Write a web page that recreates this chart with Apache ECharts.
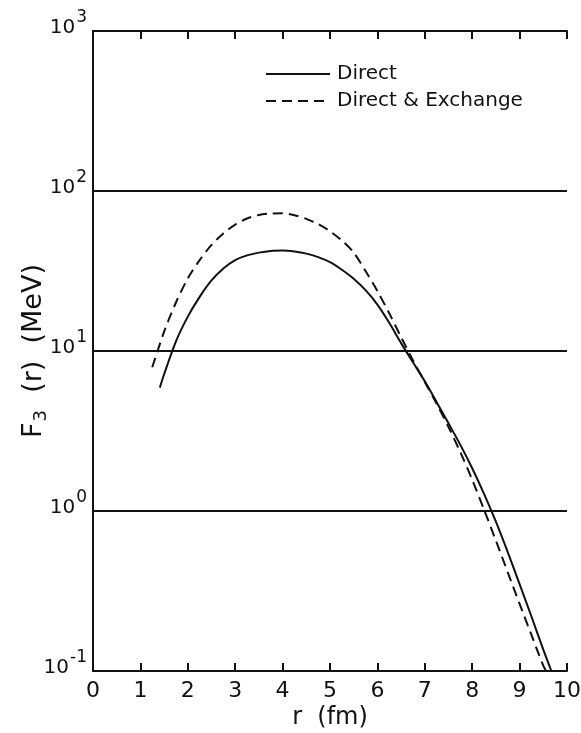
<!DOCTYPE html>
<html>
<head>
<meta charset="utf-8">
<script src="https://cdn.jsdelivr.net/npm/echarts@6/dist/echarts.min.js"></script>
<style>
  html, body { margin: 0; padding: 0; background: #fff; }
  #chart { width: 581px; height: 733px; }
</style>
</head>
<body>
<div id="chart"></div>
<script>
// F3(r) in MeV versus r in fm, on a logarithmic scale
const directR = [1.41, 1.5, 1.75, 2.0, 2.25, 2.5, 2.75, 3.0, 3.25, 3.5, 3.75, 4.0, 4.25, 4.5, 4.75,
  5.0, 5.25, 5.5, 5.75, 6.0, 6.25, 6.5, 6.75, 7.0, 7.25, 7.5, 7.75, 8.0, 8.25, 8.5, 8.75, 9.0, 9.25, 9.5, 9.67];
const directF = [5.90, 7.16, 11.5, 16.4, 21.8, 27.6, 32.8, 37.0, 39.6, 41.2, 42.2, 42.4, 41.8, 40.6, 38.6,
  35.9, 32.2, 28.3, 24.0, 19.5, 15.0, 11.2, 8.51, 6.46, 4.79, 3.53, 2.59, 1.85, 1.28, 0.857, 0.553, 0.349, 0.219, 0.136, 0.1];

const exchangeR = [1.25, 1.5, 1.75, 2.0, 2.25, 2.5, 2.75, 3.0, 3.25, 3.5, 3.75, 4.0, 4.25, 4.5, 4.75,
  5.0, 5.25, 5.5, 5.75, 6.0, 6.25, 6.5, 6.75, 7.0, 7.25, 7.5, 7.75, 8.0, 8.25, 8.5, 8.75, 9.0, 9.25, 9.5, 9.56];
const exchangeF = [7.91, 13.2, 20.1, 28.4, 37.0, 46.0, 54.3, 61.7, 67.3, 70.8, 72.3, 72.6, 70.6, 67.0, 62.1,
  56.0, 49.0, 41.2, 31.6, 23.7, 17.2, 12.2, 8.75, 6.41, 4.68, 3.35, 2.33, 1.57, 1.02, 0.653, 0.414, 0.263, 0.168, 0.108, 0.1];

const xTicks = [0, 1, 2, 3, 4, 5, 6, 7, 8, 9, 10];
const yExponents = [-1, 0, 1, 2, 3];

const seriesNames = ['Direct', 'Direct & Exchange'];

const font = '"DejaVu Sans", "Liberation Sans", sans-serif';
const ink = '#111';

const pairs = (xs, ys) => xs.map((x, i) => [x, ys[i]]);

const chart = echarts.init(document.getElementById('chart'), null, { renderer: 'canvas' });

chart.setOption({
  backgroundColor: '#fff',
  animation: false,
  grid: { left: 93, right: 14, top: 31, bottom: 62, containLabel: false, outerBoundsMode: 'none' },
  legend: {
    orient: 'vertical',
    left: 260,
    top: 59,
    itemWidth: 64,
    itemHeight: 10,
    itemGap: 7,
    itemStyle: { opacity: 0 },
    textStyle: { fontFamily: font, fontSize: 20, color: ink, padding: [0, 0, 0, 2] },
    data: seriesNames
  },
  xAxis: [
    {
      type: 'value',
      min: xTicks[0],
      max: xTicks[xTicks.length - 1],
      interval: 1,
      name: 'r  (fm)',
      nameLocation: 'middle',
      nameGap: 35,
      nameMoveOverlap: false,
      nameTextStyle: { fontFamily: font, fontSize: 24, color: ink },
      axisLine: { show: true, lineStyle: { color: ink, width: 2 } },
      axisTick: { show: true, inside: true, length: 8, lineStyle: { color: ink, width: 2 } },
      axisLabel: { fontFamily: font, fontSize: 22, color: ink, margin: 9 },
      splitLine: { show: false }
    },
    {
      type: 'value',
      position: 'top',
      min: xTicks[0],
      max: xTicks[xTicks.length - 1],
      interval: 1,
      axisLine: { show: true, lineStyle: { color: ink, width: 2 } },
      axisTick: { show: true, inside: true, length: 8, lineStyle: { color: ink, width: 2 } },
      axisLabel: { show: false },
      splitLine: { show: false }
    }
  ],
  yAxis: [
    {
      type: 'log',
      logBase: 10,
      min: Math.pow(10, yExponents[0]),
      max: Math.pow(10, yExponents[yExponents.length - 1]),
      name: '{a|F}{s|3}{a|  (r)  (MeV)}',
      nameLocation: 'middle',
      nameGap: 43,
      nameMoveOverlap: false,
      nameTextStyle: {
        fontFamily: font, color: ink,
        rich: {
          a: { fontFamily: font, fontSize: 27, color: ink },
          s: { fontFamily: font, fontSize: 18, color: ink, padding: [14, 0, 0, 1] }
        }
      },
      axisLine: { show: true, lineStyle: { color: ink, width: 2 } },
      axisTick: { show: false },
      axisLabel: {
        margin: 6,
        formatter: function (v) {
          const e = Math.round(Math.log10(v));
          return yExponents.indexOf(e) >= 0 ? '{b|10}{s|' + e + '}' : '';
        },
        rich: {
          b: { fontFamily: font, fontSize: 20, color: ink, padding: [0, 0, 6, 0] },
          s: { fontFamily: font, fontSize: 17, color: ink, padding: [0, 0, 26, 1] }
        }
      },
      splitLine: { show: true, lineStyle: { color: ink, width: 2 } }
    },
    {
      type: 'log',
      logBase: 10,
      position: 'right',
      min: Math.pow(10, yExponents[0]),
      max: Math.pow(10, yExponents[yExponents.length - 1]),
      axisLine: { show: true, lineStyle: { color: ink, width: 2 } },
      axisTick: { show: false },
      axisLabel: { show: false },
      splitLine: { show: false }
    }
  ],
  series: [
    {
      name: seriesNames[0],
      type: 'line',
      xAxisIndex: 0,
      yAxisIndex: 0,
      data: pairs(directR, directF),
      smooth: 0.3,
      symbol: 'none',
      lineStyle: { color: ink, width: 2, type: 'solid' },
      itemStyle: { color: ink }
    },
    {
      name: seriesNames[1],
      type: 'line',
      xAxisIndex: 0,
      yAxisIndex: 0,
      data: pairs(exchangeR, exchangeF),
      smooth: 0.3,
      symbol: 'none',
      lineStyle: { color: ink, width: 2, type: [10, 6] },
      itemStyle: { color: ink }
    }
  ]
});
</script>
</body>
</html>
